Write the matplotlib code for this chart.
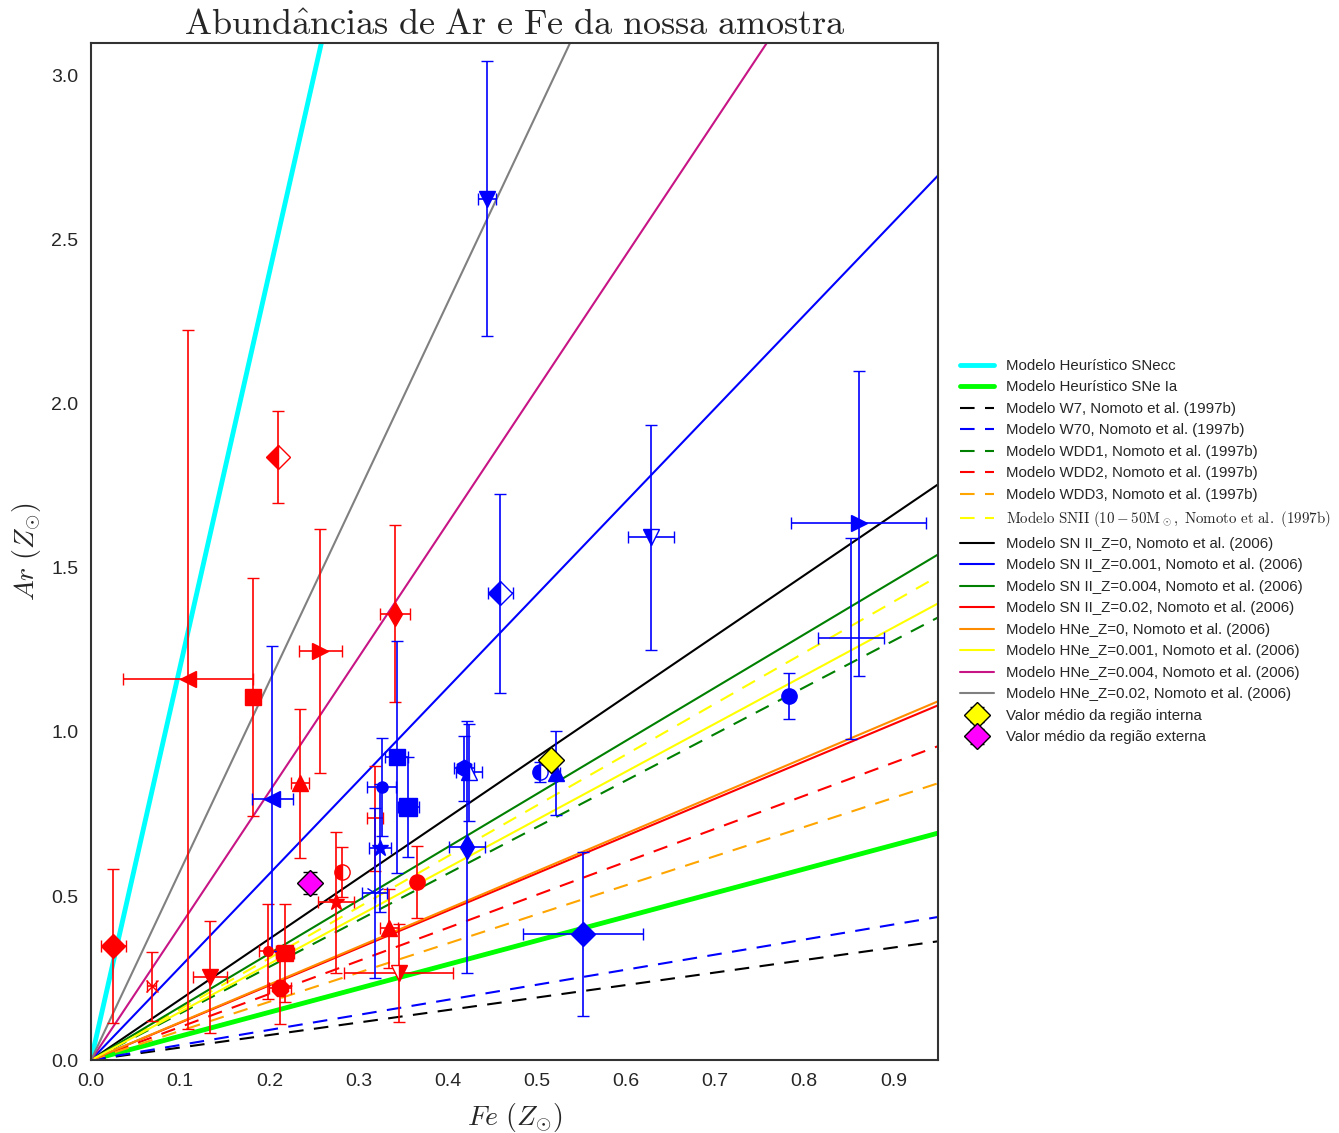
import numpy as np
import matplotlib
matplotlib.use('Agg')
import matplotlib.pyplot as plt

plt.style.use('seaborn-v0_8-white')
plt.rcParams['font.family'] = ['Liberation Sans', 'DejaVu Sans']
plt.rcParams['mathtext.fontset'] = 'cm'

# model lines (Ar = slope * Fe)
model_labels = [
    'Modelo Heurístico SNecc',
    'Modelo Heurístico SNe Ia',
    'Modelo W7, Nomoto et al. (1997b)',
    'Modelo W70, Nomoto et al. (1997b)',
    'Modelo WDD1, Nomoto et al. (1997b)',
    'Modelo WDD2, Nomoto et al. (1997b)',
    'Modelo WDD3, Nomoto et al. (1997b)',
    r'$\mathrm{Modelo\ SNII\ (10-50M_\odot,\ Nomoto\ et\ al.\ (1997b)}$',
    'Modelo SN II_Z=0, Nomoto et al. (2006)',
    'Modelo SN II_Z=0.001, Nomoto et al. (2006)',
    'Modelo SN II_Z=0.004, Nomoto et al. (2006)',
    'Modelo SN II_Z=0.02, Nomoto et al. (2006)',
    'Modelo HNe_Z=0, Nomoto et al. (2006)',
    'Modelo HNe_Z=0.001, Nomoto et al. (2006)',
    'Modelo HNe_Z=0.004, Nomoto et al. (2006)',
    'Modelo HNe_Z=0.02, Nomoto et al. (2006)',
]
model_slopes = [12.0, 0.728, 0.381, 0.459, 1.42, 1.007, 0.888, 1.552,
                1.847, 2.838, 1.622, 1.138, 1.151, 1.465, 4.09, 5.77]
model_colors = ['cyan', 'lime', 'black', 'blue', 'green', 'red', 'orange', 'yellow',
                'black', 'blue', 'green', 'red', 'darkorange', 'yellow', 'mediumvioletred', 'gray']
model_styles = ['-', '-', '--', '--', '--', '--', '--', '--',
                '-', '-', '-', '-', '-', '-', '-', '-']
model_widths = [3.5, 3.5] + [1.5] * 14

# outer region points (red)
red_x = [0.025, 0.068, 0.109, 0.210, 0.182, 0.257, 0.2345, 0.1335, 0.198,
         0.218, 0.212, 0.275, 0.282, 0.318, 0.334, 0.345, 0.366, 0.341]
red_y = [0.347, 0.225, 1.16, 1.837, 1.106, 1.246, 0.844, 0.253, 0.332,
         0.326, 0.219, 0.481, 0.573, 0.737, 0.402, 0.265, 0.542, 1.36]
red_xerr = [0.014, 0.005, 0.073, 0.005, 0.008, 0.024, 0.01, 0.019, 0.01,
            0.01, 0.012, 0.02, 0.004, 0.009, 0.01, 0.061, 0.004, 0.017]
red_yerr = [0.235, 0.105, 1.065, 0.14, 0.363, 0.372, 0.227, 0.17, 0.145,
            0.15, 0.11, 0.215, 0.075, 0.16, 0.12, 0.15, 0.11, 0.27]
red_mk = ['D', 'x', '<', 'D', 's', '>', '^', 'v', 'o',
          's', '8', '*', 'o', ',', '^', 'v', 'o', 'd']
red_fill = ['full', 'full', 'full', 'left', 'full', 'full', 'full', 'full', 'full',
            'full', 'full', 'full', 'left', 'full', 'full', 'right', 'full', 'full']
red_ms = [12, 9, 12, 12, 11, 12, 12, 12, 7,
          11, 12, 12, 11, 6, 11, 12, 11, 12]

# inner region points (blue)
blue_x = [0.444, 0.459, 0.861, 0.628, 0.852, 0.783, 0.552, 0.422, 0.418,
          0.424, 0.504, 0.522, 0.343, 0.356, 0.326, 0.324, 0.318, 0.203]
blue_y = [2.626, 1.423, 1.636, 1.593, 1.285, 1.109, 0.384, 0.649, 0.889,
          0.877, 0.877, 0.874, 0.923, 0.771, 0.832, 0.646, 0.509, 0.797]
blue_xerr = [0.01, 0.014, 0.076, 0.026, 0.037, 0.003, 0.067, 0.02, 0.011,
             0.015, 0.004, 0.004, 0.013, 0.012, 0.016, 0.012, 0.014, 0.023]
blue_yerr = [0.42, 0.303, 0.465, 0.343, 0.305, 0.07, 0.25, 0.384, 0.1,
             0.147, 0.03, 0.128, 0.353, 0.153, 0.15, 0.195, 0.26, 0.465]
blue_mk = ['v', 'D', '>', 'v', ',', 'o', 'D', 'd', 'h',
           '^', 'o', '^', 's', 's', 'o', '*', '1', '<']
blue_fill = ['full', 'left', 'full', 'left', 'full', 'full', 'full', 'full', 'full',
             'left', 'left', 'full', 'full', 'full', 'full', 'full', 'full', 'full']
blue_ms = [12, 12, 12, 12, 6, 11, 12, 12, 12,
           12, 11, 12, 11, 13, 8, 12, 14, 12]

mean_x = [0.516, 0.246]
mean_y = [0.914, 0.539]
mean_yerr = [0.0, 0.034]
mean_colors = ['yellow', 'magenta']
mean_labels = ['Valor médio da região interna', 'Valor médio da região externa']

fig = plt.figure(figsize=(13.39, 11.33), dpi=100)
ax = fig.add_axes([0.068, 0.0644, 0.6325, 0.8976])

xx = np.array([0.0, 1.0])
for lab, s, c, ls, lw in zip(model_labels, model_slopes, model_colors, model_styles, model_widths):
    line, = ax.plot(xx, s * xx, color=c, ls=ls, lw=lw, label=lab)
    if ls == '--':
        line.set_dashes((7, 5))

def points(xs, ys, xe, ye, mks, fills, sizes, color):
    for i in range(len(xs)):
        ax.errorbar(xs[i], ys[i], xerr=xe[i], yerr=ye[i], fmt=mks[i], color=color,
                    ms=sizes[i], fillstyle=fills[i], markerfacecoloralt='white',
                    elinewidth=1.2, capsize=4, capthick=1.2, mew=1.0)

points(red_x, red_y, red_xerr, red_yerr, red_mk, red_fill, red_ms, 'red')
points(blue_x, blue_y, blue_xerr, blue_yerr, blue_mk, blue_fill, blue_ms, 'blue')
for i in range(2):
    ax.errorbar(mean_x[i], mean_y[i], yerr=mean_yerr[i], fmt='D', ms=13,
                mfc=mean_colors[i], mec='black', ecolor='black', capsize=5,
                elinewidth=1.0, label=mean_labels[i])

ax.set_xlim(0, 0.95)
ax.set_ylim(0, 3.1)
ax.set_xticks(np.arange(0, 0.91, 0.1))
ax.set_yticks(np.arange(0, 3.01, 0.5))
ax.tick_params(labelsize=14, pad=9)
for sp in ax.spines.values():
    sp.set_color('#333333')
    sp.set_linewidth(1.5)

ax.set_xlabel(r'$Fe\ (Z_{\odot})$', fontsize=20, labelpad=8)
ax.set_ylabel(r'$Ar\ (Z_{\odot})$', fontsize=20, labelpad=6)
ax.set_title(r'$\mathrm{Abund\hat{a}ncias\ de\ Ar\ e\ Fe\ da\ nossa\ amostra}$', fontsize=26, pad=4)

ax.legend(loc='center left', bbox_to_anchor=(1.01, 0.5), frameon=False, fontsize=10.8,
          handlelength=2.3, labelspacing=0.5)

fig.savefig('out.png', dpi=100)
